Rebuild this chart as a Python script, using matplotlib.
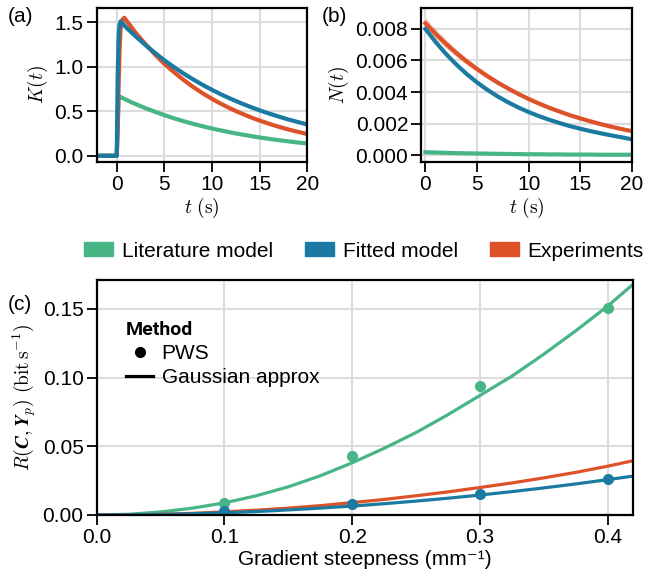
import numpy as np
from matplotlib import pyplot as plt
from matplotlib.patches import Patch
from matplotlib.lines import Line2D

plt.rcParams['font.family'] = ['Liberation Sans', 'DejaVu Sans']
plt.rcParams['mathtext.fontset'] = 'cm'
plt.rcParams['font.size'] = 15

GREEN = '#47b585'
BLUE = '#1a7aa2'
ORANGE = '#dd5229'

# (a) kernel K(t)
t_k = [-2, 0, 0.1, 0.2, 0.3, 0.4, 0.6, 0.8, 1, 1.5, 2, 3, 4, 5, 6, 7, 8, 9, 10,
       11, 12, 13, 14, 15, 16, 17, 18, 19, 20]
k_lit = [0, 0, 0.30, 0.66, 0.665, 0.660, 0.649, 0.639, 0.629, 0.603, 0.580, 0.535,
         0.495, 0.456, 0.421, 0.389, 0.359, 0.332, 0.306, 0.283, 0.261, 0.241, 0.223,
         0.205, 0.190, 0.175, 0.162, 0.149, 0.138]
k_fit = [0, 0, 0.90, 1.35, 1.48, 1.51, 1.488, 1.466, 1.44, 1.39, 1.34, 1.245, 1.156,
         1.073, 0.996, 0.925, 0.859, 0.797, 0.740, 0.687, 0.638, 0.592, 0.550, 0.510,
         0.474, 0.440, 0.408, 0.379, 0.352]
k_exp = [0, 0, 0.30, 0.80, 1.20, 1.42, 1.53, 1.55, 1.52, 1.45, 1.38, 1.255, 1.14,
         1.033, 0.94, 0.853, 0.774, 0.703, 0.639, 0.580, 0.527, 0.479, 0.435, 0.395,
         0.359, 0.326, 0.296, 0.269, 0.244]

# (b) noise correlation N(t)
t_n = list(range(0, 21))
n_lit = [0.00018, 0.00016, 0.00014, 0.00012, 0.00011, 0.00010, 0.00009, 0.00008,
         0.00007, 0.00006, 0.00005, 0.00005, 0.00004, 0.00004, 0.00003, 0.00003,
         0.00003, 0.00002, 0.00002, 0.00002, 0.00002]
n_fit = [0.00800, 0.00716, 0.00641, 0.00574, 0.00514, 0.00461, 0.00414, 0.00372,
         0.00335, 0.00302, 0.00273, 0.00247, 0.00224, 0.00203, 0.00184, 0.00167,
         0.00152, 0.00138, 0.00125, 0.00113, 0.00100]
n_exp = [0.00836, 0.00768, 0.00705, 0.00647, 0.00594, 0.00546, 0.00501, 0.00460,
         0.00423, 0.00388, 0.00356, 0.00327, 0.00300, 0.00276, 0.00253, 0.00233,
         0.00214, 0.00196, 0.00180, 0.00165, 0.00152]
n_exp_err = [0.00035, 0.00031, 0.00027, 0.00024, 0.00021, 0.00018, 0.00016, 0.00014,
             0.00013, 0.00012, 0.00011, 0.00010, 0.00010, 0.00009, 0.00009, 0.00008,
             0.00008, 0.00008, 0.00007, 0.00007, 0.00007]

# (c) information rate vs gradient steepness
g = [0, 0.025, 0.05, 0.075, 0.1, 0.125, 0.15, 0.175, 0.2, 0.225, 0.25, 0.275, 0.3,
     0.325, 0.35, 0.375, 0.4, 0.42]
r_lit = [0, 0.0005, 0.0022, 0.0050, 0.0088, 0.0140, 0.0205, 0.0285, 0.0380, 0.0485,
         0.060, 0.073, 0.087, 0.101, 0.117, 0.134, 0.152, 0.168]
r_exp = [0, 0.0001, 0.0005, 0.0012, 0.0023, 0.0035, 0.0050, 0.0068, 0.0090, 0.0113,
         0.0140, 0.0168, 0.0200, 0.0233, 0.0270, 0.0310, 0.0355, 0.0395]
r_fit = [0, 0.0001, 0.0004, 0.0009, 0.0016, 0.0025, 0.0037, 0.0050, 0.0065, 0.0082,
         0.0101, 0.0122, 0.0145, 0.0170, 0.0197, 0.0226, 0.0257, 0.0283]
g_pws = [0.1, 0.2, 0.3, 0.4]
pws_lit = [0.009, 0.043, 0.094, 0.151]
pws_fit = [0.003, 0.008, 0.015, 0.026]


def styleAx(ax):
  ax.grid(True, color='#dcdcdc', lw=1.5)
  ax.set_axisbelow(True)
  for sp in ax.spines.values():
    sp.set_linewidth(1.6)
  ax.tick_params(direction='out', length=7, width=1.3, labelsize=15, pad=2.5)


fig = plt.figure(figsize=(6.47, 5.8), dpi=100)

ax1 = fig.add_axes([0.1495, 0.7207, 0.3255, 0.2655])
ax1.plot(t_k, k_lit, color=GREEN, lw=3)
ax1.plot(t_k, k_exp, color=ORANGE, lw=3)
ax1.plot(t_k, k_fit, color=BLUE, lw=3)
ax1.set_xlim(-2.1, 20)
ax1.set_ylim(-0.07, 1.66)
ax1.set_xticks([0, 5, 10, 15, 20])
ax1.set_yticks([0, 0.5, 1.0, 1.5])
ax1.set_xlabel(r'$t\ (\mathrm{s})$', fontsize=14, labelpad=1)
ax1.set_ylabel(r'$K(t)$', fontsize=14, labelpad=3)
styleAx(ax1)

ax2 = fig.add_axes([0.6512, 0.7207, 0.3252, 0.2655])
lo = np.array(n_exp) - np.array(n_exp_err)
hi = np.array(n_exp) + np.array(n_exp_err)
ax2.fill_between(t_n, lo, hi, color=ORANGE, alpha=0.3, lw=0)
ax2.plot(t_n, n_lit, color=GREEN, lw=3)
ax2.plot(t_n, n_exp, color=ORANGE, lw=3)
ax2.plot(t_n, n_fit, color=BLUE, lw=3)
ax2.set_xlim(-0.4, 20)
ax2.set_ylim(-0.00044, 0.00933)
ax2.set_xticks([0, 5, 10, 15, 20])
ax2.set_yticks([0, 0.002, 0.004, 0.006, 0.008])
ax2.set_yticklabels(['0.000', '0.002', '0.004', '0.006', '0.008'])
ax2.set_xlabel(r'$t\ (\mathrm{s})$', fontsize=14, labelpad=1)
ax2.set_ylabel(r'$N(t)$', fontsize=14, labelpad=3)
styleAx(ax2)

ax3 = fig.add_axes([0.1495, 0.1121, 0.829, 0.4052])
ax3.plot(g, r_lit, color=GREEN, lw=2.3)
ax3.plot(g, r_exp, color=ORANGE, lw=2.3)
ax3.plot(g, r_fit, color=BLUE, lw=2.3)
ax3.plot(g_pws, pws_lit, 'o', color=GREEN, ms=7)
ax3.plot(g_pws, pws_fit, 'o', color=BLUE, ms=7)
ax3.set_xlim(0, 0.42)
ax3.set_ylim(0, 0.1711)
ax3.set_xticks([0, 0.1, 0.2, 0.3, 0.4])
ax3.set_yticks([0, 0.05, 0.10, 0.15])
ax3.set_yticklabels(['0.00', '0.05', '0.10', '0.15'])
ax3.set_xlabel('Gradient steepness (mm⁻¹)', fontsize=15, labelpad=2)
ax3.set_ylabel(r'$R(\boldsymbol{C},\boldsymbol{Y}_p)\ (\mathrm{bit\,s^{-1}})$',
               fontsize=14, labelpad=3)
styleAx(ax3)

mh = [Line2D([], [], marker='o', ls='none', color='black', ms=7),
      Line2D([], [], color='black', lw=2.3)]
leg = ax3.legend(mh, ['PWS', 'Gaussian approx'], loc='upper left',
                 bbox_to_anchor=(0.02, 0.905), frameon=False, title='Method',
                 title_fontproperties={'family': 'Roboto', 'weight': 'bold', 'size': 14},
                 handlelength=1.3, handletextpad=0.4, labelspacing=0.25,
                 fontsize=15)
leg._legend_box.align = 'left'

ph = [Patch(color=GREEN), Patch(color=BLUE), Patch(color=ORANGE)]
fig.legend(ph, ['Literature model', 'Fitted model', 'Experiments'], ncol=3,
           loc='center', bbox_to_anchor=(0.5626, 0.567), frameon=False,
           handlelength=1.4, handleheight=0.65, handletextpad=0.4,
           columnspacing=1.55, fontsize=15, borderpad=0.2)

fig.text(0.012, 0.962, '(a)', fontsize=15)
fig.text(0.497, 0.962, '(b)', fontsize=15)
fig.text(0.012, 0.466, '(c)', fontsize=15)

fig.savefig('out.png', dpi=100)
